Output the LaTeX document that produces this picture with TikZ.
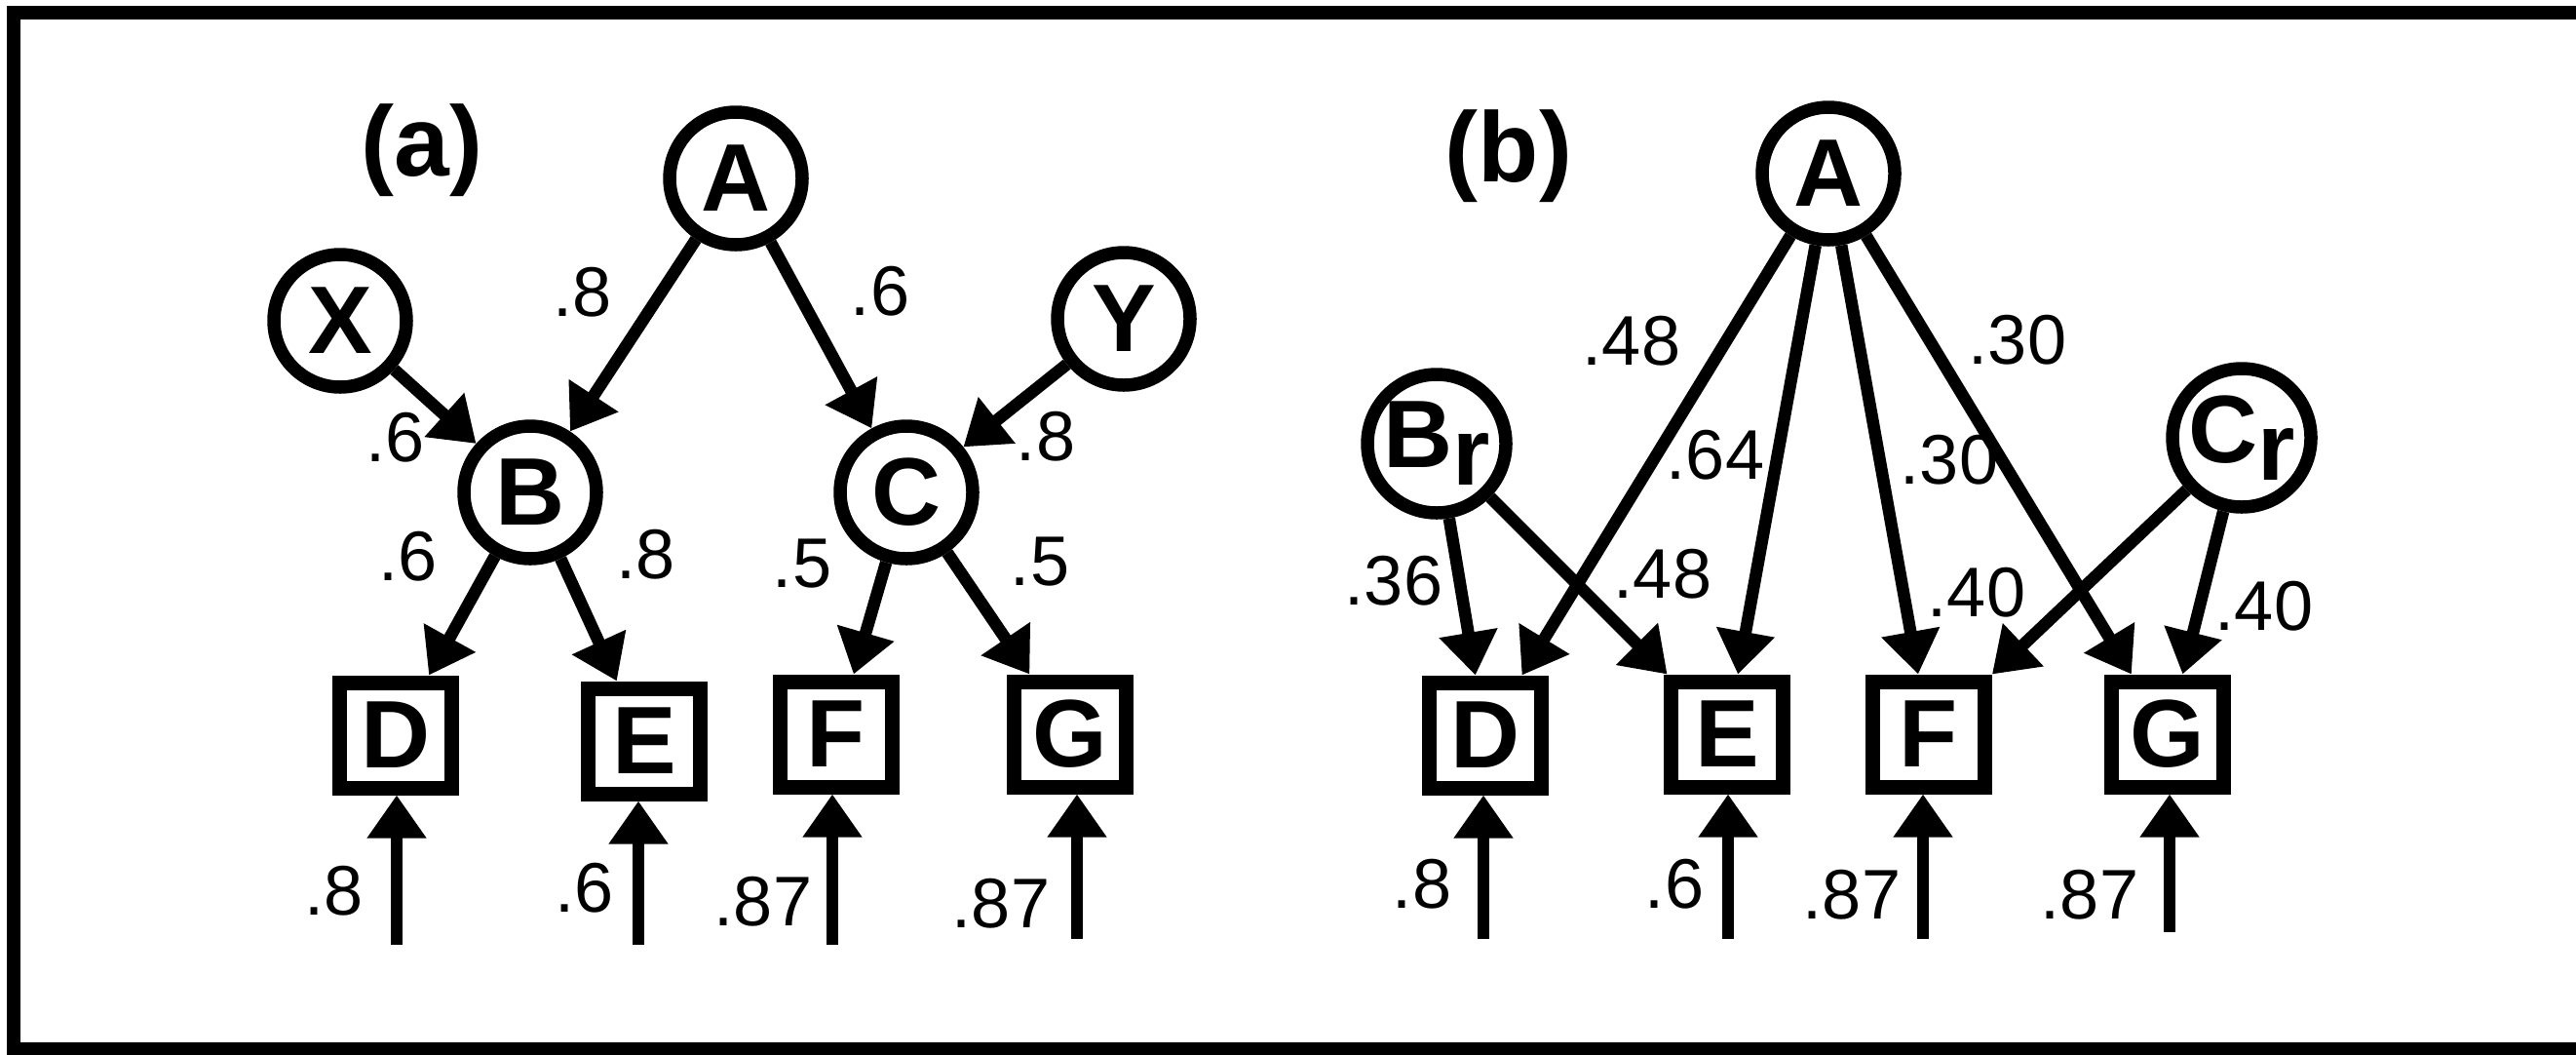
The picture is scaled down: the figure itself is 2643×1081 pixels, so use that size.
\documentclass[tikz,border=0pt]{standalone}
\usepackage{fontspec}
\setmainfont{Liberation Sans}
\usetikzlibrary{arrows.meta}
\begin{document}
\begin{tikzpicture}[x=0.1mm,y=-0.1mm,
  circ/.style={circle,draw,line width=1.35mm,minimum size=13.6mm,inner sep=0pt,font=\fontsize{28}{30}\selectfont\bfseries},
  bigcirc/.style={circ,minimum size=14.2mm},
  sq/.style={rectangle,draw,line width=1.5mm,minimum width=11.5mm,minimum height=10.8mm,inner sep=0pt,font=\fontsize{28}{30}\selectfont\bfseries},
  arr/.style={line width=1.25mm,-{Triangle[width=5.8mm,length=4.4mm]}},
  lbl/.style={inner sep=0pt,font=\fontsize{20.5}{22}\selectfont},
  ttl/.style={inner sep=0pt,font=\fontsize{29}{32}\selectfont\bfseries}]
\useasboundingbox (0,0) rectangle (2643,1081);
% frame
\coordinate (f1) at (2643,13);
\coordinate (f2) at (14,13);
\coordinate (f3) at (14,1076);
\coordinate (f4) at (2643,1076);
\draw[line width=1.4mm,line cap=rect] (f1) -- (f2) -- (f3) -- (f4);

% ---------- panel (a)
\node[ttl] (ta) at (433,154) {(a)};
\node[circ] (aA) at (755,183) {A};
\node[circ] (aX) at (349,329) {X};
\node[circ] (aY) at (1153,327) {Y};
\node[circ] (aB) at (544,505) {B};
\node[circ] (aC) at (930,505) {C};
\node[sq] (aD) at (406,754) {D};
\node[sq] (aE) at (661,760) {E};
\node[sq] (aF) at (858,753) {F};
\node[sq] (aG) at (1098,753) {G};
\coordinate (aDs) at (407,969);
\coordinate (aEs) at (655,969);
\coordinate (aFs) at (854,969);
\coordinate (aGs) at (1105,963);

\draw[arr] (aA) -- (aB);
\draw[arr] (aA) -- (aC);
\draw[arr] (aX) -- (aB);
\draw[arr] (aY) -- (aC);
\draw[arr] (aB) -- (aD);
\draw[arr] (aB) -- (aE);
\draw[arr] (aC) -- (aF);
\draw[arr] (aC) -- (aG);
\draw[arr] (aDs) -- (aDs |- aD.south);
\draw[arr] (aEs) -- (aEs |- aE.south);
\draw[arr] (aFs) -- (aFs |- aF.south);
\draw[arr] (aGs) -- (aGs |- aG.south);

\node[lbl] (la1) at (598,300) {.8};
\node[lbl] (la2) at (903,299) {.6};
\node[lbl] (la3) at (406,449) {.6};
\node[lbl] (la4) at (1073,448) {.8};
\node[lbl] (la5) at (419,571) {.6};
\node[lbl] (la6) at (663,569) {.8};
\node[lbl] (la7) at (823,578) {.5};
\node[lbl] (la8) at (1067,576) {.5};
\node[lbl] (la9) at (343,914) {.8};
\node[lbl] (la10) at (600,911) {.6};
\node[lbl] (la11) at (783,925) {.87};
\node[lbl] (la12) at (1027,927) {.87};

% ---------- panel (b)
\node[ttl] (tb) at (1548,160) {(b)};
\node[circ] (bA) at (1876,178) {A};
\node[bigcirc] (bB) at (1474,455) {B\raisebox{-1.8mm}{r}};
\node[bigcirc] (bC) at (2300,449) {C\raisebox{-1.8mm}{r}};
\node[sq] (bD) at (1524,754) {D};
\node[sq] (bE) at (1772,753) {E};
\node[sq] (bF) at (1979,753) {F};
\node[sq] (bG) at (2224,753) {G};
\coordinate (bDs) at (1522,963);
\coordinate (bEs) at (1773,963);
\coordinate (bFs) at (1973,963);
\coordinate (bGs) at (2226,956);

\draw[arr] (bA) -- (bD);
\draw[arr] (bA) -- (bE);
\draw[arr] (bA) -- (bF);
\draw[arr] (bA) -- (bG);
\draw[arr] (bB) -- (bD);
\draw[arr] (bB) -- (bE);
\draw[arr] (bC) -- (bF);
\draw[arr] (bC) -- (bG);
\draw[arr] (bDs) -- (bDs |- bD.south);
\draw[arr] (bEs) -- (bEs |- bE.south);
\draw[arr] (bFs) -- (bFs |- bF.south);
\draw[arr] (bGs) -- (bGs |- bG.south);

\node[lbl] (lb1) at (1674,350) {.48};
\node[lbl] (lb2) at (2070,349) {.30};
\node[lbl] (lb3) at (1760,467) {.64};
\node[lbl] (lb4) at (2000,472) {.30};
\node[lbl] (lb5) at (1430,596) {.36};
\node[lbl] (lb6) at (1706,589) {.48};
\node[lbl] (lb7) at (2028,608) {.40};
\node[lbl] (lb8) at (2323,622) {.40};
\node[lbl] (lb9) at (1459,907) {.8};
\node[lbl] (lb10) at (1718,907) {.6};
\node[lbl] (lb11) at (1900,918) {.87};
\node[lbl] (lb12) at (2144,918) {.87};
\end{tikzpicture}
\end{document}
